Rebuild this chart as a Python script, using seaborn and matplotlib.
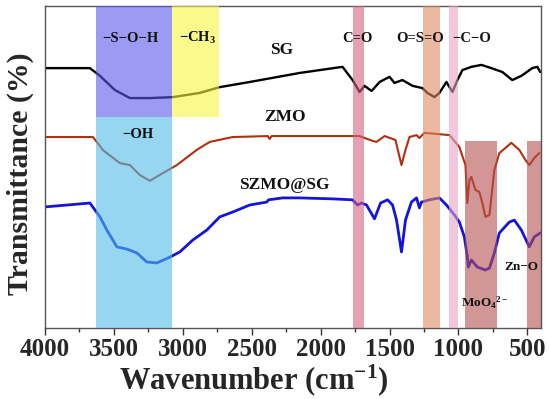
import matplotlib
matplotlib.use("Agg")
import matplotlib.pyplot as plt
import seaborn as sns
import numpy as np
import pandas as pd

# ---- data (wavenumber, relative transmittance) ----
sg_wn = [4000, 3674, 3601, 3493, 3384, 3239, 3072, 2877, 2732, 2514, 2152, 1841,
         1768, 1717, 1681, 1630, 1572, 1500, 1464, 1406, 1333, 1261, 1225, 1174,
         1138, 1087, 1065, 1043, 1007, 971, 906, 833, 761, 681, 609, 543, 464, 428, 406]
sg_t = [80.7, 80.7, 78.3, 73.9, 71.4, 71.4, 71.7, 73.0, 74.8, 76.4, 79.2, 81.1,
        77.0, 73.3, 75.2, 73.6, 76.4, 78.0, 76.1, 77.0, 75.2, 74.5, 73.0, 71.7,
        73.0, 76.4, 74.8, 73.3, 77.0, 80.1, 81.1, 81.7, 80.7, 79.5, 77.0, 78.3, 80.7, 81.1, 79.5]

zmo_wn = [4000, 3652, 3580, 3551, 3457, 3384, 3312, 3239, 3145, 3043, 2899, 2804,
          2638, 2384, 2370, 2355, 1717, 1623, 1594, 1536, 1457, 1413, 1384, 1355,
          1304, 1283, 1246, 1065, 993, 949, 935, 920, 906, 877, 848, 826, 804, 775,
          739, 703, 616, 558, 514, 486, 449, 413]
zmo_t = [59.3, 59.3, 55.3, 54.3, 51.2, 50.6, 47.5, 45.7, 48.1, 50.6, 55.3, 57.8,
         59.3, 59.6, 58.7, 59.6, 59.6, 58.1, 57.8, 59.6, 58.4, 50.6, 55.3, 59.3,
         59.9, 59.0, 60.6, 59.9, 56.2, 50.6, 38.8, 46.0, 46.9, 42.9, 42.2, 38.8, 34.5, 35.1,
         49.1, 54.3, 57.5, 55.3, 52.2, 50.6, 52.8, 54.3]

szmo_wn = [4000, 3674, 3601, 3551, 3478, 3406, 3333, 3261, 3188, 3094, 3022, 2928,
           2826, 2732, 2638, 2514, 2391, 2377, 2275, 2152, 1913, 1768, 1732, 1703,
           1667, 1609, 1565, 1514, 1478, 1449, 1413, 1384, 1341, 1304, 1283, 1268,
           1210, 1138, 1087, 1029, 993, 957, 935, 928, 906, 862, 804, 775, 739, 703,
           630, 594, 543, 486, 449, 406]
szmo_t = [37.6, 38.8, 34.5, 30.4, 25.2, 24.5, 23.3, 20.5, 20.2, 22.0, 23.6, 27.3,
          30.4, 34.5, 36.0, 38.2, 39.1, 39.8, 40.4, 40.4, 40.1, 39.8, 38.2, 38.8,
          38.2, 33.9, 38.8, 39.8, 38.2, 33.5, 23.6, 33.5, 39.1, 40.4, 37.3, 39.1,
          39.8, 40.4, 38.2, 35.1, 32.9, 28.3, 22.0, 18.9, 21.1, 18.9, 18.0, 18.6, 23.3, 29.5,
          32.9, 33.5, 30.4, 25.2, 28.3, 29.5]

# shaded assignment bands: (high wn, low wn, bottom, top)
band_names = ["-S-O-H", "-CH3", "-OH", "C=O", "O=S=O", "-C-O", "MoO4", "Zn-O"]
band_hi = [3630, 3075, 3630, 1768, 1255, 1070, 949, 505]
band_lo = [3075, 2740, 3075, 1688, 1130, 1005, 717, 400]
band_bottom = [65.5, 65.5, 0, 0, 0, 0, 0, 0]
band_top = [100, 100, 65.5, 100, 100, 100, 58, 58]
band_colors = ["#5858ee", "#f5f53f", "#50bce9", "#d56182", "#de8a61", "#e6a3c5", "#b45050", "#b45050"]

frames = []
for name, wn, t in [("SG", sg_wn, sg_t), ("ZMO", zmo_wn, zmo_t), ("SZMO@SG", szmo_wn, szmo_t)]:
    frames.append(pd.DataFrame({"wn": wn, "T": t, "sample": name}))
df = pd.concat(frames, ignore_index=True)

sns.set_theme(style="white")
plt.rcParams["font.family"] = ["Liberation Serif", "DejaVu Serif"]
plt.rcParams["font.weight"] = "bold"
plt.rcParams["mathtext.fontset"] = "custom"
plt.rcParams["mathtext.rm"] = "Liberation Serif:bold"
plt.rcParams["mathtext.bf"] = "Liberation Serif:bold"
plt.rcParams["mathtext.it"] = "Liberation Serif:bold"

fig = plt.figure(figsize=(5.5, 3.99), dpi=100)
ax = fig.add_axes([0.0818, 0.178, 0.902, 0.807])

line_colors = {"SG": "#000000", "ZMO": "#b0300f", "SZMO@SG": "#1414dc"}
line_widths = {"SG": 1.7, "ZMO": 1.5, "SZMO@SG": 2.0}
for name in ["SG", "ZMO", "SZMO@SG"]:
    sub = df[df["sample"] == name]
    sns.lineplot(data=sub, x="wn", y="T", ax=ax, color=line_colors[name],
                 lw=line_widths[name], estimator=None, sort=False, zorder=2)

for hi, lo, b, t, c in zip(band_hi, band_lo, band_bottom, band_top, band_colors):
    ax.fill_between([lo, hi], b, t, color=c, alpha=0.6, lw=0, zorder=3)

ax.set_xlim(4000, 400)
ax.set_ylim(0, 100)
ax.set_xticks(np.arange(4000, 499, -500))
ax.set_xticks(np.arange(3750, 400, -500), minor=True)
ax.set_yticks([])
ax.tick_params(axis="x", which="major", direction="out", length=5, width=1,
               bottom=True, labelsize=18, pad=2, color="#333333")
ax.tick_params(axis="x", which="minor", direction="out", length=3, width=1,
               bottom=True, color="#333333")
for lab in ax.get_xticklabels():
    lab.set_fontweight("bold")
for sp in ax.spines.values():
    sp.set_color("#555555")
    sp.set_linewidth(1)

ax.set_xlabel(r"Wavenumber (cm$^{-1}$)", fontsize=22, fontweight="bold")
ax.xaxis.set_label_coords(0.42, -0.105)
ax.set_ylabel("Transmittance (%)", fontsize=21.5, fontweight="bold")
ax.yaxis.set_label_coords(-0.022, 0.48)

kw = dict(ha="center", va="center", fontweight="bold", color="#111111", zorder=5)
ax.text(3384, 90, "−S−O−H", fontsize=10.5, **kw)
ax.text(2891, 90, r"−CH$_3$", fontsize=10.5, **kw)
ax.text(1732, 90, "C=O", fontsize=10.5, **kw)
ax.text(1275, 90, "O=S=O", fontsize=10.5, **kw)
ax.text(906, 90, "−C−O", fontsize=10.5, **kw)
ax.text(3326, 60, "−OH", fontsize=10.5, **kw)
ax.text(2283, 86.3, "SG", fontsize=12.5, **kw)
ax.text(2261, 65.5, "ZMO", fontsize=12.5, **kw)
ax.text(2261, 44.4, "SZMO@SG", fontsize=12.5, **kw)
ax.text(543, 19, "Zn−O", fontsize=9.5, **kw)
ax.text(812, 7.8, r"MoO$_4$$^{2-}$", fontsize=9.5, **kw)

fig.savefig("out.png", dpi=100)
